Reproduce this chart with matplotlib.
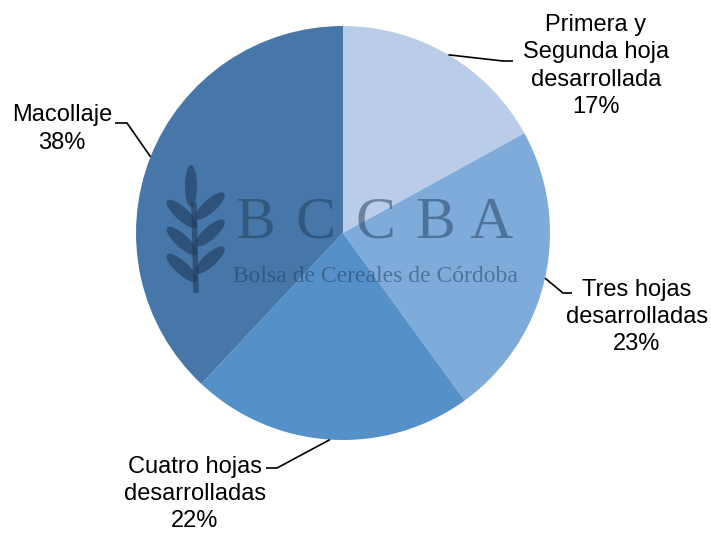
import numpy as np
import matplotlib.pyplot as plt
from matplotlib.patches import Ellipse

plt.rcParams['font.family'] = ['Liberation Sans', 'DejaVu Sans']

# ===== data =====
labels = ["Primera y\nSegunda hoja\ndesarrollada", "Tres hojas\ndesarrolladas",
          "Cuatro hojas\ndesarrolladas", "Macollaje"]
values = [17, 23, 22, 38]
colors = ["#B9CDE8", "#7FABDA", "#5591C8", "#4677A8"]

# label text positions (pixels from top-left) and leader elbows
label_pos = [(596, 66), (637, 317), (195, 494), (62, 129)]
elbows = [[(503, 61), (513, 61)], [(563, 293), (572, 293)],
          [(277, 468), (266, 468)], [(127, 123), (115, 123)]]

W, H = 711, 533
fig = plt.figure(figsize=(W / 100, H / 100), dpi=100)
ax = fig.add_axes([0, 0, 1, 1])

cx, cy, r = 343, H - 233, 207
wedges, _ = ax.pie(values, colors=colors, startangle=90, counterclock=False,
                   center=(cx, cy), radius=r, frame=True,
                   wedgeprops=dict(linewidth=0))
ax.set_xlim(0, W)
ax.set_ylim(0, H)
ax.set_aspect("equal")
ax.axis("off")

# ===== leader lines + labels =====
for w, lab, v, pos, elb in zip(wedges, labels, values, label_pos, elbows):
    ang = np.deg2rad((w.theta1 + w.theta2) / 2)
    px, py = cx + r * np.cos(ang), cy + r * np.sin(ang)
    xs = [px] + [e[0] for e in elb]
    ys = [py] + [H - e[1] for e in elb]
    ax.plot(xs, ys, color="black", lw=1.2, solid_capstyle="butt")
    ax.text(pos[0], H - pos[1], f"{lab}\n{v}%", ha="center", va="center",
            fontsize=17, linespacing=1.3, color="black")

# ===== watermark =====
wm = "#1F3A5A"
for ch, xx in zip("BCCBA", [255, 315, 375, 435, 491]):
    ax.text(xx, H - 224, ch, ha="center", va="center", fontsize=43,
            family="Liberation Serif", color=wm, alpha=0.5)
ax.text(375, H - 276, "Bolsa de Cereales de Córdoba", ha="center", va="center",
        fontsize=17, family="Liberation Serif", color=wm, alpha=0.5)

# wheat logo
leaf_kw = dict(facecolor=wm, edgecolor="none", alpha=0.6)
ax.add_patch(Ellipse((191, H - 186), 12, 42, **leaf_kw))
for yy in [214, 241, 268]:
    ax.add_patch(Ellipse((182, H - yy), 40, 13, angle=-42, **leaf_kw))
for yy in [206, 233, 260]:
    ax.add_patch(Ellipse((210, H - yy), 38, 13, angle=42, **leaf_kw))
ax.plot([194, 196], [H - 205, H - 290], color=wm, alpha=0.6, lw=4)

fig.savefig("out.png", dpi=100)
